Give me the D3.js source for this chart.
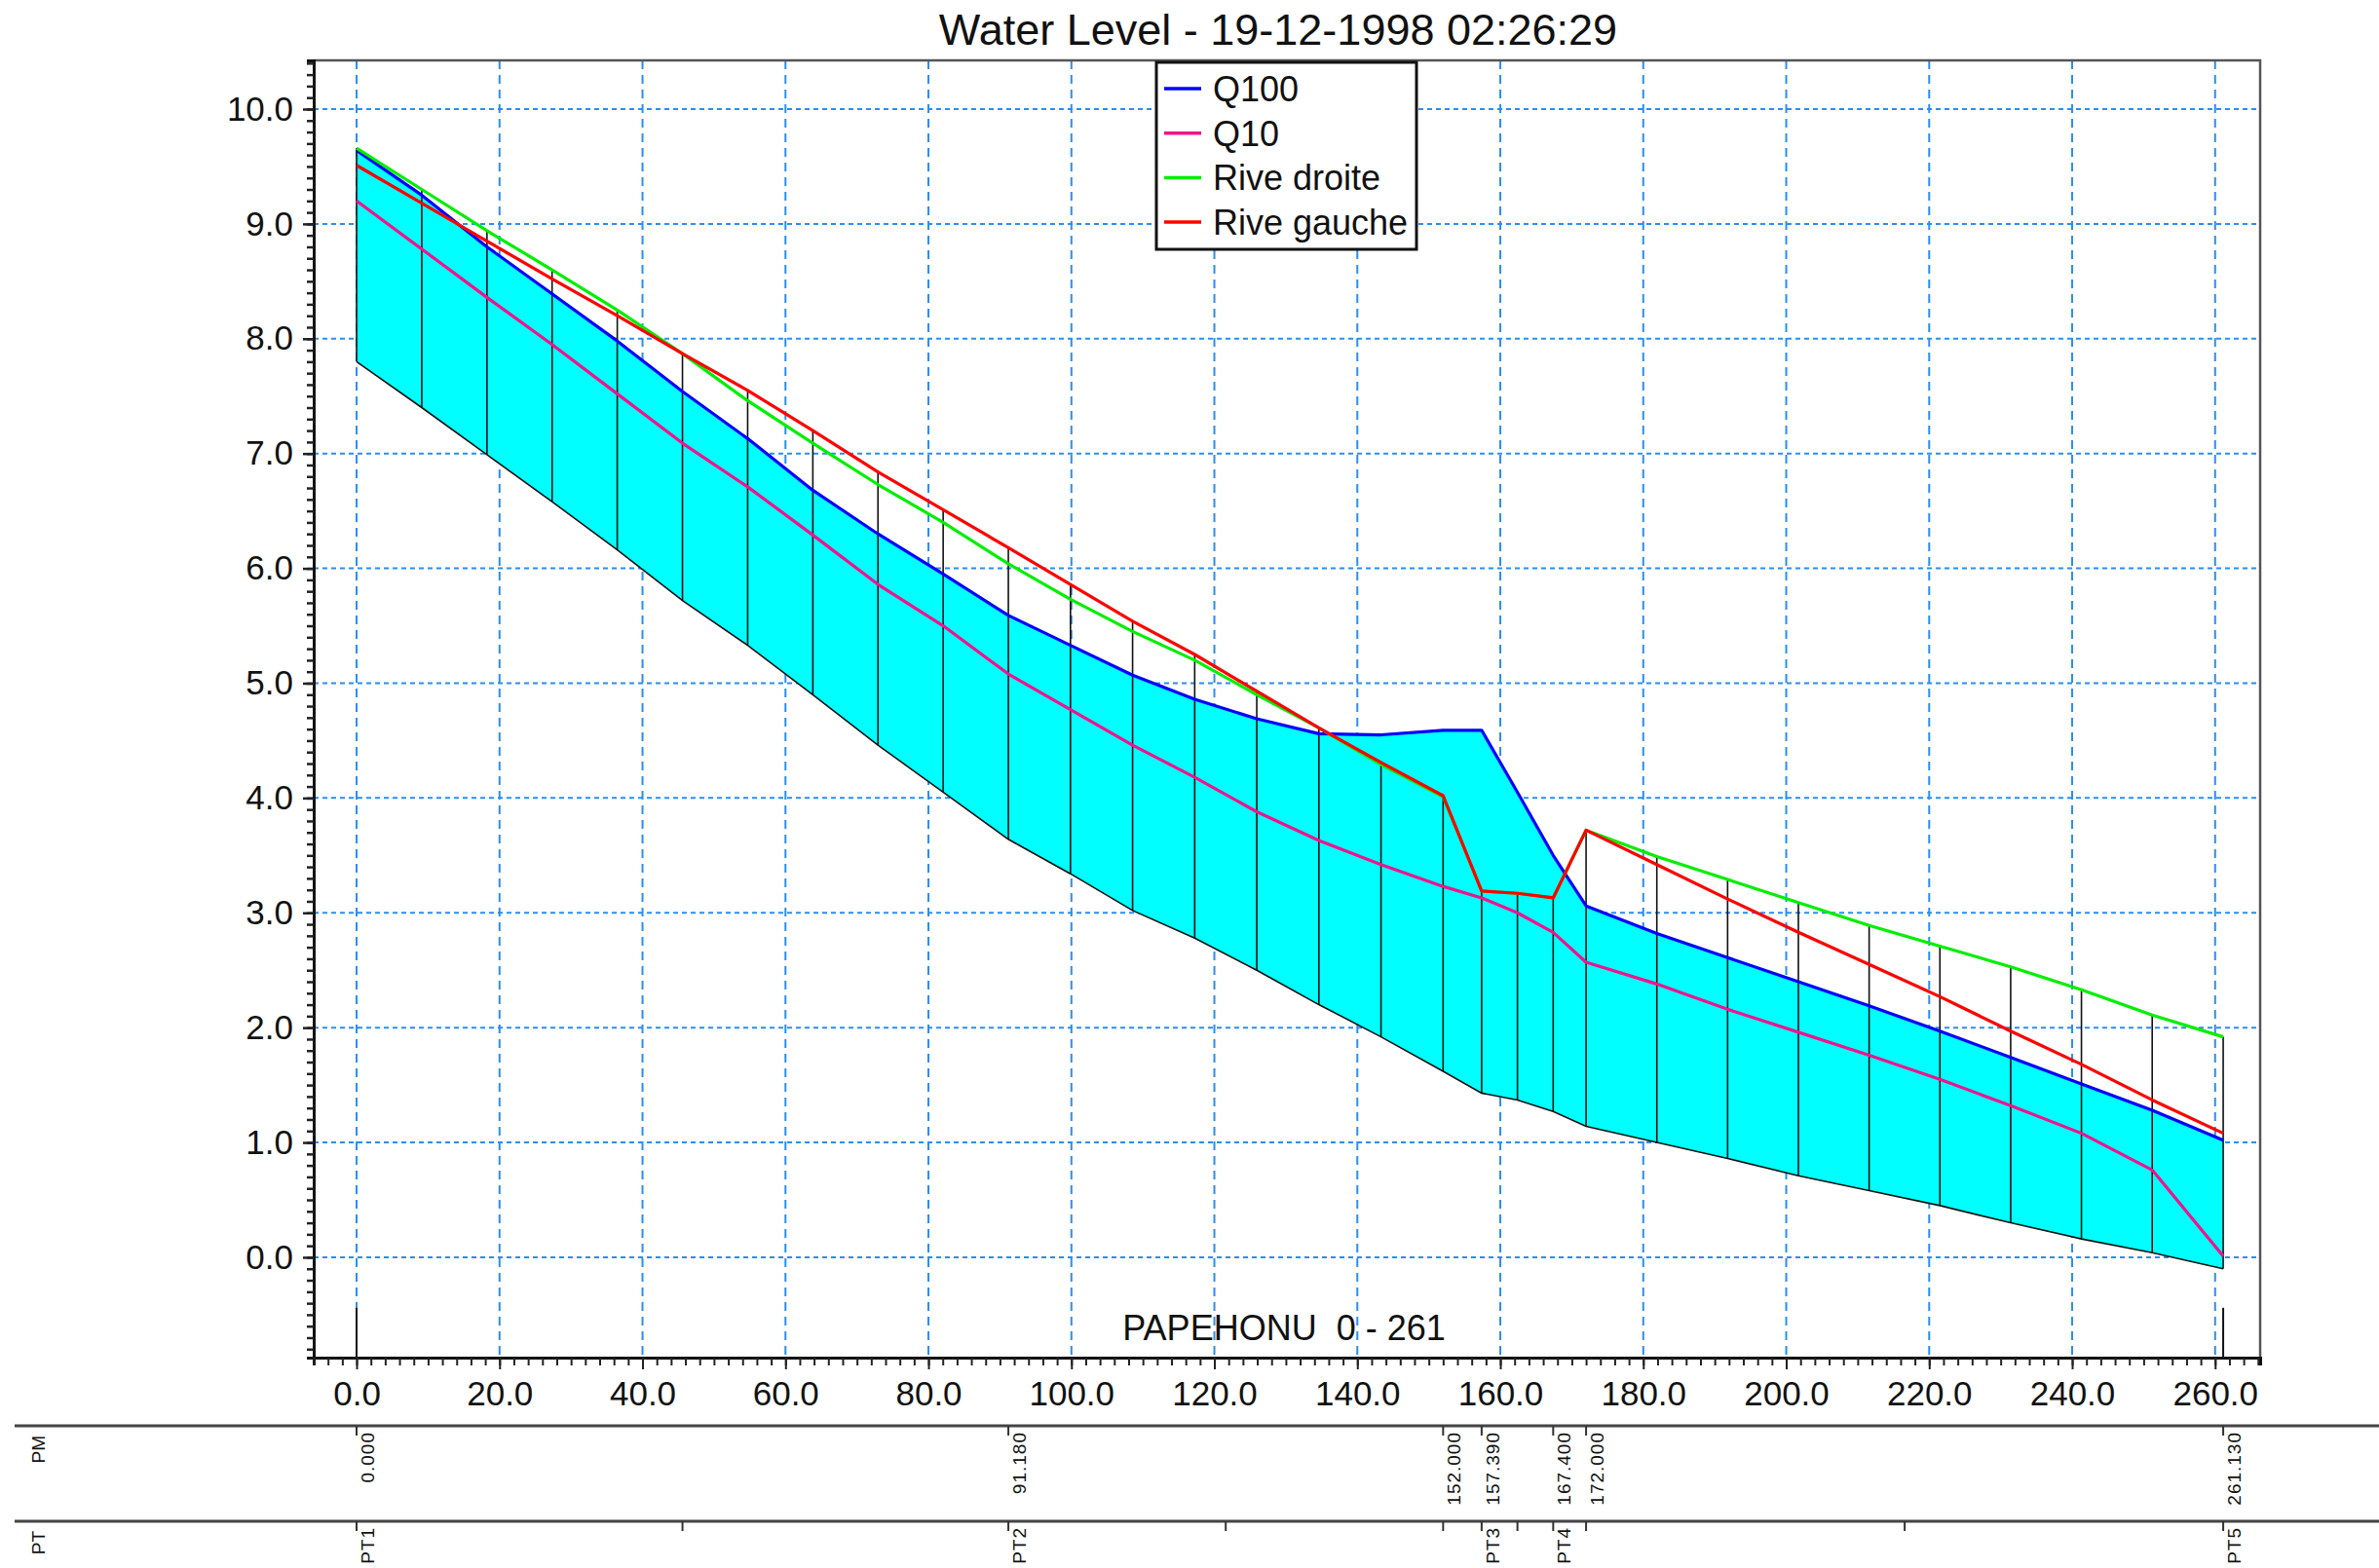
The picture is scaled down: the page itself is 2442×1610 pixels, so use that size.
<!DOCTYPE html>
<html>
<head>
<meta charset="utf-8">
<script src="https://cdn.jsdelivr.net/npm/d3@7"></script>
<style>
  body { margin: 0; background: #fff; }
  text { font-family: "Liberation Sans", Arial, sans-serif; fill: #111; }
</style>
</head>
<body>
<svg id="chart" width="2442" height="1610"></svg>
<script>
// chainage of each cross section (m)
var sectionX = [0, 9.12, 18.24, 27.35, 36.47, 45.59, 54.71, 63.83, 72.94, 82.06, 91.18,
  99.87, 108.56, 117.25, 125.93, 134.62, 143.31, 152.0, 157.39, 162.4, 167.4, 172.0,
  181.9, 191.8, 201.7, 211.6, 221.5, 231.4, 241.3, 251.2, 261.13];

// bed level at each section
var bedLevel = [7.80, 7.40, 6.99, 6.58, 6.16, 5.72, 5.33, 4.90, 4.46, 4.05, 3.64,
  3.34, 3.02, 2.78, 2.50, 2.20, 1.92, 1.62, 1.43, 1.37, 1.27, 1.14,
  1.00, 0.86, 0.71, 0.58, 0.45, 0.30, 0.16, 0.04, -0.10];

// water levels
var q100 = [9.64, 9.25, 8.80, 8.39, 7.98, 7.54, 7.13, 6.68, 6.30, 5.95, 5.59,
  5.33, 5.07, 4.86, 4.69, 4.56, 4.55, 4.59, 4.59, 4.05, 3.50, 3.06,
  2.82, 2.61, 2.40, 2.19, 1.97, 1.74, 1.51, 1.28, 1.02];
var q10 = [9.20, 8.78, 8.36, 7.95, 7.52, 7.09, 6.71, 6.29, 5.86, 5.50, 5.08,
  4.77, 4.46, 4.18, 3.88, 3.63, 3.42, 3.23, 3.13, 3.00, 2.83, 2.57,
  2.38, 2.16, 1.96, 1.76, 1.55, 1.32, 1.08, 0.76, 0.01];

// bank levels
var rightBank = [9.66, 9.30, 8.94, 8.60, 8.25, 7.87, 7.46, 7.09, 6.73, 6.40, 6.04,
  5.73, 5.45, 5.20, 4.90, 4.61, 4.29, 4.01, 3.19, 3.17, 3.13, 3.72,
  3.49, 3.29, 3.09, 2.89, 2.71, 2.53, 2.33, 2.11, 1.92];
var leftBank = [9.51, 9.18, 8.85, 8.52, 8.20, 7.87, 7.55, 7.20, 6.84, 6.51, 6.18,
  5.86, 5.54, 5.25, 4.93, 4.61, 4.31, 4.02, 3.19, 3.17, 3.13, 3.72,
  3.42, 3.12, 2.83, 2.55, 2.27, 1.97, 1.68, 1.37, 1.08];

// axis ticks
var xMajorTicks = [0, 20, 40, 60, 80, 100, 120, 140, 160, 180, 200, 220, 240, 260];
var yMajorTicks = [0, 1, 2, 3, 4, 5, 6, 7, 8, 9, 10];

// PM / PT bands under the chart
var pmValues = [0, 91.18, 152.0, 157.39, 167.4, 172.0, 261.13];
var pmLabels = ["0.000", "91.180", "152.000", "157.390", "167.400", "172.000", "261.130"];
var ptTicks = [0, 45.59, 91.18, 121.59, 152.0, 157.39, 162.4, 167.4, 172.0, 216.57, 261.13];
var ptValues = [0, 91.18, 157.39, 167.4, 261.13];
var ptLabels = ["PT1", "PT2", "PT3", "PT4", "PT5"];

var series = [
  {name: "Q100", color: "#0000ff", values: q100},
  {name: "Q10", color: "#f0148c", values: q10},
  {name: "Rive droite", color: "#00ee00", values: rightBank},
  {name: "Rive gauche", color: "#ff0000", values: leftBank}
];

var frame = {left: 322, top: 62, right: 2320, bottom: 1394};
var svg = d3.select("#chart");

var x = d3.scaleLinear().domain([-6, 266.3]).range([frame.left, frame.right]);
var y = d3.scaleLinear().domain([-0.874, 10.424]).range([frame.bottom, frame.top]);

// title
svg.append("text")
  .attr("x", 1312).attr("y", 46)
  .attr("text-anchor", "middle")
  .style("font-size", "45px")
  .text("Water Level - 19-12-1998 02:26:29");

// dotted grid
var gridColor = "#2b8ef0";
svg.append("g").selectAll("line")
  .data(yMajorTicks).enter().append("line")
  .attr("x1", frame.left).attr("x2", frame.right)
  .attr("y1", function (d) { return y(d); })
  .attr("y2", function (d) { return y(d); })
  .attr("stroke", gridColor).attr("stroke-width", 2)
  .attr("stroke-dasharray", "5,4");
svg.append("g").selectAll("line")
  .data(xMajorTicks).enter().append("line")
  .attr("y1", frame.top).attr("y2", frame.bottom)
  .attr("x1", function (d) { return x(d); })
  .attr("x2", function (d) { return x(d); })
  .attr("stroke", gridColor).attr("stroke-width", 2)
  .attr("stroke-dasharray", "9,6");

var points = sectionX.map(function (d, i) { return i; });

// cyan area between the bed and the Q100 level
var area = d3.area()
  .x(function (i) { return x(sectionX[i]); })
  .y0(function (i) { return y(bedLevel[i]); })
  .y1(function (i) { return y(q100[i]); });
svg.append("path")
  .datum(points)
  .attr("d", area)
  .attr("fill", "#00ffff");

// vertical lines at each section, from top of bank to bed
svg.append("g").selectAll("line")
  .data(points).enter().append("line")
  .attr("x1", function (i) { return x(sectionX[i]); })
  .attr("x2", function (i) { return x(sectionX[i]); })
  .attr("y1", function (i) { return y(Math.max(leftBank[i], rightBank[i], i == 0 ? q100[i] : -99)); })
  .attr("y2", function (i) { return y(bedLevel[i]); })
  .attr("stroke", "#111").attr("stroke-width", 1.6);

// bed line
var bedLine = d3.line()
  .x(function (i) { return x(sectionX[i]); })
  .y(function (i) { return y(bedLevel[i]); });
svg.append("path")
  .datum(points)
  .attr("d", bedLine)
  .attr("fill", "none").attr("stroke", "#111").attr("stroke-width", 1.6);

// short markers at both ends of the reach
svg.append("g").selectAll("line")
  .data([sectionX[0], sectionX[sectionX.length - 1]]).enter().append("line")
  .attr("x1", function (d) { return x(d); })
  .attr("x2", function (d) { return x(d); })
  .attr("y1", y(-0.44)).attr("y2", frame.bottom)
  .attr("stroke", "#111").attr("stroke-width", 2);

// water levels and banks
var drawOrder = [series[1], series[0], series[2], series[3]];
drawOrder.forEach(function (s) {
  var line = d3.line()
    .x(function (i) { return x(sectionX[i]); })
    .y(function (i) { return y(s.values[i]); });
  svg.append("path")
    .datum(points)
    .attr("d", line)
    .attr("fill", "none")
    .attr("stroke", s.color)
    .attr("stroke-width", 3.2)
    .attr("stroke-linejoin", "round");
});

// frame
svg.append("path")
  .attr("d", "M" + frame.left + "," + frame.top + "H" + frame.right + "V" + frame.bottom)
  .attr("fill", "none").attr("stroke", "#555").attr("stroke-width", 2.5);

// y axis: minor ticks every 0.1, labelled ticks every 1.0
var yMinor = d3.range(-8, 105).map(function (d) { return d / 10; });
svg.append("g")
  .attr("transform", "translate(" + frame.left + ",0)")
  .call(d3.axisLeft(y).tickValues(yMinor).tickSize(7).tickFormat(""))
  .call(function (g) {
    g.select(".domain").attr("stroke", "#111").attr("stroke-width", 3);
    g.selectAll(".tick line").attr("stroke", "#222").attr("stroke-width", 2.5);
  });
svg.append("g")
  .attr("transform", "translate(" + frame.left + ",0)")
  .call(d3.axisLeft(y).tickValues(yMajorTicks).tickSize(11).tickPadding(10).tickFormat(d3.format(".1f")))
  .call(function (g) {
    g.select(".domain").remove();
    g.selectAll(".tick line").attr("stroke", "#222").attr("stroke-width", 2.5);
    g.selectAll(".tick text").style("font-size", "35px").attr("fill", "#111");
  });

// x axis: minor ticks every 2, labelled ticks every 20
var xMinor = d3.range(-3, 134).map(function (d) { return d * 2; });
svg.append("g")
  .attr("transform", "translate(0," + frame.bottom + ")")
  .call(d3.axisBottom(x).tickValues(xMinor).tickSize(8).tickFormat(""))
  .call(function (g) {
    g.select(".domain").attr("stroke", "#111").attr("stroke-width", 3);
    g.selectAll(".tick line").attr("stroke", "#222").attr("stroke-width", 2);
  });
svg.append("g")
  .attr("transform", "translate(0," + frame.bottom + ")")
  .call(d3.axisBottom(x).tickValues(xMajorTicks).tickSize(12).tickPadding(12).tickFormat(d3.format(".1f")))
  .call(function (g) {
    g.select(".domain").remove();
    g.selectAll(".tick line").attr("stroke", "#222").attr("stroke-width", 2);
    g.selectAll(".tick text").style("font-size", "35px").attr("fill", "#111");
  });

// reach name
svg.append("text")
  .attr("x", 1318).attr("y", 1376)
  .attr("text-anchor", "middle")
  .style("font-size", "36px")
  .style("white-space", "pre")
  .text("PAPEHONU  0 - 261");

// legend
var legend = svg.append("g");
legend.append("rect")
  .attr("x", 1187).attr("y", 64).attr("width", 267).attr("height", 192)
  .attr("fill", "#fff").attr("stroke", "#111").attr("stroke-width", 3);
series.forEach(function (s, i) {
  var cy = 91 + i * 45.7;
  legend.append("line")
    .attr("x1", 1195).attr("x2", 1233).attr("y1", cy).attr("y2", cy)
    .attr("stroke", s.color).attr("stroke-width", 3.5);
  legend.append("text")
    .attr("x", 1245).attr("y", cy + 13)
    .style("font-size", "36px")
    .text(s.name);
});

// PM and PT bands
function drawBand(lineY, name, tickValues, labelValues, labels) {
  var band = svg.append("g");
  band.append("line")
    .attr("x1", 15).attr("x2", 2442).attr("y1", lineY).attr("y2", lineY)
    .attr("stroke", "#444").attr("stroke-width", 3);
  band.append("text")
    .attr("transform", "translate(46," + (lineY + 10) + ") rotate(-90)")
    .attr("text-anchor", "end")
    .style("font-size", "19px")
    .text(name);
  band.selectAll("line.tick")
    .data(tickValues).enter().append("line")
    .attr("class", "tick")
    .attr("x1", function (d) { return x(d); })
    .attr("x2", function (d) { return x(d); })
    .attr("y1", lineY).attr("y2", lineY + 10)
    .attr("stroke", "#333").attr("stroke-width", 2);
  band.selectAll("text.lbl")
    .data(labelValues).enter().append("text")
    .attr("class", "lbl")
    .attr("transform", function (d) { return "translate(" + (x(d) + 18) + "," + (lineY + 6) + ") rotate(-90)"; })
    .attr("text-anchor", "end")
    .style("font-size", "19px")
    .style("letter-spacing", "1px")
    .text(function (d, i) { return labels[i]; });
}
drawBand(1464, "PM", pmValues, pmValues, pmLabels);
drawBand(1562, "PT", ptTicks, ptValues, ptLabels);
</script>
</body>
</html>
